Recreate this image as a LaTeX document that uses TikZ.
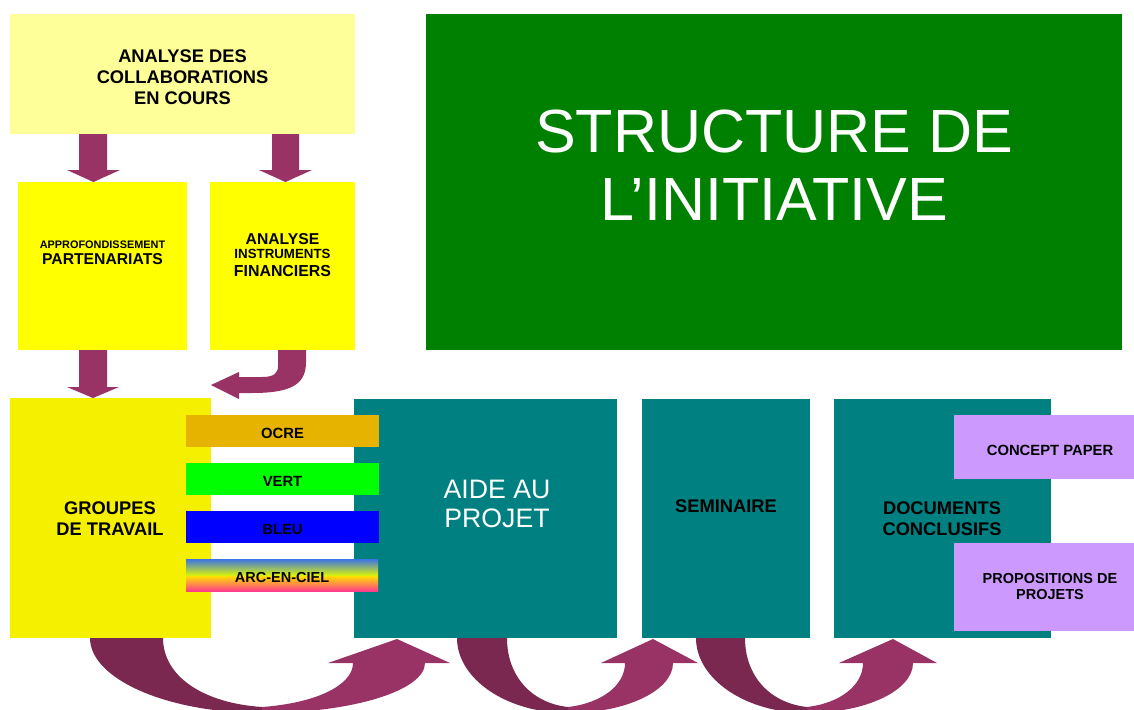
\documentclass[tikz,border=0pt]{standalone}
\usepackage{fontspec}
\setmainfont{Liberation Sans}
\usetikzlibrary{calc}
\definecolor{lyel}{HTML}{FFFF99}
\definecolor{yel}{HTML}{FFFF00}
\definecolor{gyel}{HTML}{F5EF00}
\definecolor{dgreen}{HTML}{008000}
\definecolor{teal}{HTML}{008080}
\definecolor{ocre}{HTML}{E6B400}
\definecolor{vert}{HTML}{00FF00}
\definecolor{bleu}{HTML}{0000FF}
\definecolor{lav}{HTML}{CC99FF}
\definecolor{alight}{HTML}{993366}
\definecolor{adark}{HTML}{7B2850}
\definecolor{rb1}{HTML}{3A74E4}
\definecolor{rb2}{HTML}{20B070}
\definecolor{rb3}{HTML}{D8F010}
\definecolor{rb4}{HTML}{FFE000}
\definecolor{rb5}{HTML}{FF9030}
\definecolor{rb6}{HTML}{FF3C8C}
\newcommand\fs[2]{\fontsize{#1}{#2}\selectfont}
% U-shaped block arrow: outer-left, inner-left, split, inner-right, outer-right, head-left, head-right, tip-x
\newcommand\UArrow[8]{%
  \fill[adark] (#1,638) .. controls (#1,679) and ({#3-0.552*(#3-#1)},713) .. (#3,713)
     -- (#3,707) .. controls ({#3-0.6*(#3-#2)},703) and (#2,676) .. (#2,638) -- cycle;
  \fill[alight] (#3,713) .. controls ({#3+0.552*(#5-#3)},713) and (#5,{663+0.552*50}) .. (#5,663)
     -- (#7,663) -- (#8,639) -- (#6,663) -- (#4,663)
     .. controls (#4,{663+0.5*44}) and ({#3+0.6*(#4-#3)},703) .. (#3,707) -- cycle;
}
\tikzset{
  box/.style={anchor=north west, inner sep=0pt, outer sep=0pt, draw=none},
  lbl/.style={inner sep=0pt, outer sep=0pt, align=center, anchor=base},
  bl/.style={lbl, font=\bfseries\fs{18.3}{20.8}},
}
\begin{document}
\begin{tikzpicture}[x=1pt, y=-1pt]
\useasboundingbox (0,0) rectangle (1134,709);
\fill[white] (0,0) rectangle (1134,709);

% boxes
\node[box, fill=lyel, minimum width=345pt, minimum height=120pt] (tb) at (10,14) {};
\node[box, fill=dgreen, minimum width=696pt, minimum height=336pt] (gb) at (426,14) {};
\node[box, fill=yel, minimum width=169pt, minimum height=168pt] (ap) at (18,182) {};
\node[box, fill=yel, minimum width=145pt, minimum height=168pt] (an) at (210,182) {};
\node[box, fill=gyel, minimum width=201pt, minimum height=240pt] (gr) at (10,398) {};
\node[box, fill=teal, minimum width=263pt, minimum height=239pt] (aide) at (354,399) {};
\node[box, fill=teal, minimum width=168pt, minimum height=239pt] (sem) at (642,399) {};
\node[box, fill=teal, minimum width=217pt, minimum height=239pt] (doc) at (834,399) {};
\node[box, fill=lav, minimum width=180pt, minimum height=64pt] (cp) at (954,415) {};
\node[box, fill=lav, minimum width=180pt, minimum height=88pt] (pp) at (954,543) {};

% colour bars
\node[box, fill=ocre, minimum width=193pt, minimum height=32pt] (ocre) at (186,415) {};
\node[box, fill=vert, minimum width=193pt, minimum height=32pt] (vert) at (186,463) {};
\node[box, fill=bleu, minimum width=193pt, minimum height=32pt] (bleu) at (186,511) {};
\shade[top color=rb1, middle color=rb2, bottom color=rb3] (186,559) rectangle (378,575);
\shade[top color=rb4, middle color=rb5, bottom color=rb6] (186,576) rectangle (378,591);
\node[box, minimum width=192pt, minimum height=32pt] (arc) at (186,559) {};

% straight block arrows
\fill[alight] (79,134) -- (107,134) -- (107,170) -- (120,170) -- (93.5,182) -- (67,170) -- (79,170) -- cycle;
\fill[alight] (272,134) -- (299,134) -- (299,170) -- (312,170) -- (285.5,182) -- (259,170) -- (272,170) -- cycle;
\fill[alight] (79,350) -- (107,350) -- (107,387) -- (119,387) -- (93,398) -- (67,387) -- (79,387) -- cycle;
% bent arrow
\fill[alight] (278,350) -- (278,366) .. controls (278,374) and (273,377) .. (262,377) -- (239,377)
  -- (239,372) -- (211,385) -- (239,399) -- (239,393) -- (252,393)
  .. controls (292,393) and (306,384) .. (306,362) -- (306,350) -- cycle;

% U arrows
\begin{scope}
\clip (0,0) rectangle (1134,709);
\UArrow{90}{163}{262}{353}{425}{328}{450}{397}
\UArrow{457}{507}{568}{625}{673}{601}{698}{653}
\UArrow{696}{745}{807}{863}{913}{839}{937}{893}
\end{scope}

% labels (anchor = baseline of the last line)
\node[bl] (tbt) at (182.5,104) {ANALYSE DES\\COLLABORATIONS\\EN COURS};
\node[lbl, text=white, font=\fs{61}{68}] (gbt) at (774,220) {STRUCTURE DE\\L’INITIATIVE};
\node[lbl, font=\bfseries\fs{10.9}{12}] (apt1) at (102.5,248) {APPROFONDISSEMENT};
\node[lbl, font=\bfseries\fs{15.7}{17}] (apt2) at (102.5,264) {PARTENARIATS};
\node[lbl, font=\bfseries\fs{15.7}{17}] (ant1) at (282.5,244) {ANALYSE};
\node[lbl, font=\bfseries\fs{13.3}{14}] (ant2) at (282.5,258) {INSTRUMENTS};
\node[lbl, font=\bfseries\fs{15.9}{17}] (ant3) at (282.5,276) {FINANCIERS};
\node[bl] (grt) at (110,535) {GROUPES\\DE TRAVAIL};
\node[lbl, font=\bfseries\fs{14.8}{16}] at (ocre.center |- 0,438) {OCRE};
\node[lbl, font=\bfseries\fs{14.8}{16}] at (vert.center |- 0,486) {VERT};
\node[lbl, font=\bfseries\fs{14.8}{16}] at (bleu.center |- 0,534) {BLEU};
\node[lbl, font=\bfseries\fs{14.5}{16}] at (arc.center |- 0,582) {ARC-EN-CIEL};
\node[lbl, text=white, font=\fs{26.7}{29}] (aidet) at (497,527) {AIDE AU\\PROJET};
\node[bl] (semt) at (726,512) {SEMINAIRE};
\node[bl] (doct) at (942,535) {DOCUMENTS\\CONCLUSIFS};
\node[lbl, font=\bfseries\fs{14.8}{16}] (cpt) at (1050,455) {CONCEPT PAPER};
\node[lbl, font=\bfseries\fs{14.5}{16}] (ppt) at (1050,599) {PROPOSITIONS DE\\PROJETS};
\end{tikzpicture}
\end{document}
